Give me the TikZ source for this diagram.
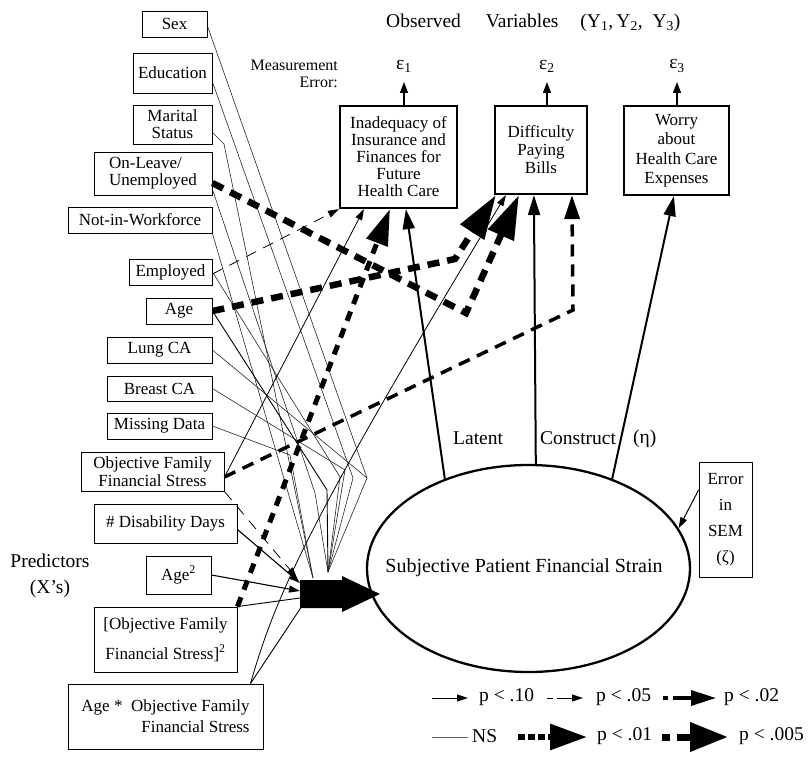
\documentclass[tikz,border=0pt]{standalone}
\usepackage{fontspec}
\setmainfont{Liberation Serif}
\usetikzlibrary{arrows.meta,shapes.geometric}
\newcommand\fsA{\fontsize{17}{17}\selectfont}
\newcommand\fsB{\fontsize{19.5}{22}\selectfont}
\newcommand\fsC{\fontsize{20}{22}\selectfont}
\begin{document}
\begin{tikzpicture}[x=1pt,y=-1pt,
  pbox/.style={draw, line width=0.9pt, inner sep=0pt, font=\fsA, align=center},
  obox/.style={draw, line width=2.2pt, inner sep=0pt, font=\fsA, align=center},
  lbl/.style={inner sep=0pt},
  ns/.style={draw=black!60, line width=0.6pt},
  nsd/.style={draw=black!85, line width=0.6pt},
  solidln/.style={draw=black, line width=0.9pt},
  sig10/.style={draw=black, line width=0.8pt, -{Triangle[length=11pt,width=7pt]}},
  sig05/.style={draw=black, line width=0.8pt, dash pattern=on 11pt off 8pt, -{Triangle[length=11pt,width=7pt]}},
  sig02/.style={draw=black, line width=3.5pt, dash pattern=on 12pt off 8pt, -{Triangle[length=24pt,width=15pt]}},
  sig01/.style={draw=black, line width=5pt, dash pattern=on 10pt off 8pt, -{Triangle[length=36pt,width=22pt]}},
  sig005/.style={draw=black, line width=6.5pt, dash pattern=on 12pt off 8pt, -{Triangle[length=44pt,width=27pt]}},
  latarr/.style={draw=black, line width=2pt, -{Triangle[length=20pt,width=12pt]}},
  eparr/.style={draw=black, line width=1.3pt, -{Triangle[length=11pt,width=8pt]}}
]
\useasboundingbox (0,0) rectangle (809,762);

% ---------- predictor boxes ----------
\node[pbox, minimum width=65pt, minimum height=26pt] (sex) at (174.5,24) {Sex};
\node[pbox, minimum width=79pt, minimum height=40pt] (edu) at (172.5,73) {Education};
\node[pbox, minimum width=79pt, minimum height=39pt] (mar) at (172.5,124.5) {Marital\\Status};
\node[pbox, minimum width=118pt, minimum height=43pt, align=left] (onl) at (153,173.5) {On-Leave/\\Unemployed};
\node[pbox, minimum width=144pt, minimum height=26pt] (niw) at (140,220) {Not-in-Workforce};
\node[pbox, minimum width=83pt, minimum height=26pt] (emp) at (170.5,272) {Employed};
\node[pbox, minimum width=66pt, minimum height=26pt] (age) at (179,311) {Age};
\node[pbox, minimum width=105pt, minimum height=26pt] (lung) at (159.5,350) {Lung CA};
\node[pbox, minimum width=105pt, minimum height=25pt] (breast) at (159.5,388.5) {Breast CA};
\node[pbox, minimum width=105pt, minimum height=26pt] (miss) at (159.5,426) {Missing Data};
\node[pbox, minimum width=143pt, minimum height=39pt, font={\fontsize{17}{18}\selectfont}] (offs) at (152.5,471.5) {Objective Family\\Financial Stress};
\node[pbox, minimum width=143pt, minimum height=39pt] (dis) at (165.5,523.5) {\# Disability Days};
\node[pbox, minimum width=65pt, minimum height=38pt] (age2) at (178.5,575) {Age\textsuperscript{2}};
\node[pbox, minimum width=143pt, minimum height=65pt, font={\fontsize{17}{30}\selectfont}] (offs2) at (165.5,639.5) {[Objective Family\\Financial Stress]\textsuperscript{2}};
\node[pbox, minimum width=195pt, minimum height=65pt, align=right, font={\fontsize{17}{21}\selectfont}] (aos) at (165.5,716.5) {Age *\ \ Objective Family\\Financial Stress};

\node[lbl, font={\fontsize{19.5}{26}\selectfont}, align=center] (pred) at (50,576) {Predictors\\(X’s)};

% ---------- observed variables ----------
\node[obox, minimum width=117pt, minimum height=102pt] (inad) at (398.5,157) {Inadequacy of\\Insurance and\\Finances for\\Future\\Health Care};
\node[obox, minimum width=92pt, minimum height=88pt, font={\fontsize{17}{18}\selectfont}] (diff) at (541,150) {Difficulty\\Paying\\Bills};
\node[obox, minimum width=105pt, minimum height=89pt, font={\fontsize{17}{19.5}\selectfont}] (worry) at (676.5,150.5) {Worry\\about\\Health Care\\Expenses};

\node[lbl, font=\fsB, anchor=west] (obs) at (386,23) {Observed\hspace{25pt}Variables\hspace{22pt}(Y\textsubscript{1},\,Y\textsubscript{2},\ \ Y\textsubscript{3})};
\node[lbl, font={\fontsize{16}{17}\selectfont}, align=right, anchor=east] (meas) at (338,74) {Measurement\\Error:};

\coordinate (e1) at (404,82);
\coordinate (e2) at (547,82);
\coordinate (e3) at (677,82);
\node[lbl, font=\fsB] (eps1) at (404,66) {ε\textsubscript{1}};
\node[lbl, font=\fsB] (eps2) at (547,66) {ε\textsubscript{2}};
\node[lbl, font=\fsB] (eps3) at (677,66) {ε\textsubscript{3}};
\draw[eparr] (inad.north -| e1) -- (e1);
\draw[eparr] (diff.north -| e2) -- (e2);
\draw[eparr] (worry.north -| e3) -- (e3);

% ---------- latent construct ----------
\node[draw, ellipse, line width=2.3pt, minimum width=323pt, minimum height=207pt, inner sep=0pt] (lat) at (528.5,568.5) {};
\node[lbl, font=\fsC] (latlbl) at (524,568) {Subjective Patient Financial Strain};
\node[lbl, font=\fsB, anchor=west] (tlat) at (453,438) {Latent};
\node[lbl, font=\fsB, anchor=west] (tcon) at (540,438) {Construct};
\node[lbl, font=\fsB, anchor=west] (teta) at (633,439) {(η)};

\draw[latarr] (lat.133) -- ([xshift=67pt]inad.south west);
\draw[latarr] (lat.86.4) -- ([xshift=40pt]diff.south west);
\draw[latarr] (lat.47.3) -- ([xshift=51pt]worry.south west);

\node[pbox, minimum width=53pt, minimum height=115pt, font={\fontsize{17}{26}\selectfont}] (err) at (725.5,519.5) {Error\\in\\SEM\\(ζ)};
\draw[sig10, line width=1pt] ([yshift=29.5pt]err.west) -- (lat.15.3);

% ---------- collector ----------
\coordinate (C1) at (313,578);
\coordinate (C2) at (328,572);
\coordinate (cDis) at (300,583);
\coordinate (cAge2) at (300,591);
\coordinate (cOffs2) at (300,598);
\coordinate (cAos) at (302,606);
\coordinate (cOffsD) at (297,578);
\fill[black] (300,580) -- (342,580) -- (342,576) -- (380,594) -- (342,612) -- (342,608) -- (300,608) -- cycle;

% non-significant paths into the collector
\draw[nsd] ([yshift=-2pt]sex.east) -- (367,478) -- (C2);
\draw[nsd] ([yshift=-9pt]edu.east) -- (353,478) -- (C2);
\draw[nsd] ([yshift=-8pt]mar.east) -- (224,144) -- (C1);
\draw[nsd] ([yshift=-16pt]onl.east) -- (315,493) -- (C2);
\draw[nsd] (niw.south east) -- (C1);
\draw[nsd] (emp.east) -- (340,477) -- (C2);
\draw[solidln] (age.east) -- (327,490) -- (C2);
\draw[nsd] (lung.east) -- (367,478);
\draw[nsd] (breast.east) -- (345,470) -- (C2);
\draw[nsd] (miss.east) -- (290,455) -- (C1);

% paths into the collector with arrow heads
\draw[sig05] (offs.south east) -- (cOffsD);
\draw[sig10, line width=1.1pt] ([yshift=-6pt]dis.east) -- (cDis);
\draw[sig10, line width=1.1pt] (age2.east) -- (cAge2);
\draw[solidln] (offs2.north east) -- (cOffs2);
\draw[solidln] ([xshift=-13pt]aos.north east) -- (cAos);

% ---------- direct effects on observed variables ----------
\draw[sig05] ([yshift=-2pt]emp.east) -- (inad.south west);
\draw[sig10] ([yshift=-5.5pt]offs.east) -- ([xshift=25pt]inad.south west);
\draw[sig01] (offs2.north east) -- ([xshift=51pt]inad.south west);
\draw[sig10] ([xshift=-13pt]aos.north east) .. controls (275,600) and (300,535) .. ([xshift=12pt]diff.south west);
\draw[sig02] ([yshift=-5.5pt]offs.east) -- (573,310) -- ([xshift=78pt]diff.south west);
\draw[sig005] ([yshift=-9.5pt]onl.east) -- (466,313) -- ([xshift=25pt]diff.south west);
\draw[sig005] (age.east) -- (455,259) -- ([xshift=2pt]diff.south west);

% ---------- legend ----------
\coordinate (la1) at (432,698); \coordinate (la2) at (468,698);
\coordinate (lb1) at (547,698); \coordinate (lb2) at (583,698);
\coordinate (lc1) at (663,698); \coordinate (lc2) at (716,698);
\coordinate (ld1) at (432,737); \coordinate (ld2) at (468,737);
\coordinate (le1) at (518,737); \coordinate (le2) at (587,737);
\coordinate (lf1) at (662,737); \coordinate (lf2) at (728,737);
\draw[sig10] (la1) -- (la2);
\node[lbl, font=\fsB, anchor=west] (t10) at (479,697) {p < .10};
\draw[sig05, dash pattern=on 6pt off 4pt on 40pt off 1pt] (lb1) -- (lb2);
\node[lbl, font=\fsB, anchor=west] (t05) at (596,697) {p < .05};
\draw[sig02, dash pattern=on 5pt off 5pt on 60pt off 1pt, -{Triangle[length=25pt,width=15pt]}] (lc1) -- (lc2);
\node[lbl, font=\fsB, anchor=west] (t02) at (724,697) {p < .02};
\draw[ns] (ld1) -- (ld2);
\node[lbl, font=\fsB, anchor=west] (tns) at (472,736) {NS};
\draw[sig01, line width=6pt, dash pattern=on 7pt off 3pt on 7pt off 3pt on 7pt off 3pt on 60pt off 1pt, -{Triangle[length=37pt,width=25pt]}] (le1) -- (le2);
\node[lbl, font=\fsB, anchor=west] (t01) at (597,736) {p < .01};
\draw[sig005, line width=7pt, dash pattern=on 8pt off 7pt on 60pt off 1pt, -{Triangle[length=38pt,width=28pt]}] (lf1) -- (lf2);
\node[lbl, font=\fsB, anchor=west] (t005) at (739,736) {p < .005};
\end{tikzpicture}
\end{document}
